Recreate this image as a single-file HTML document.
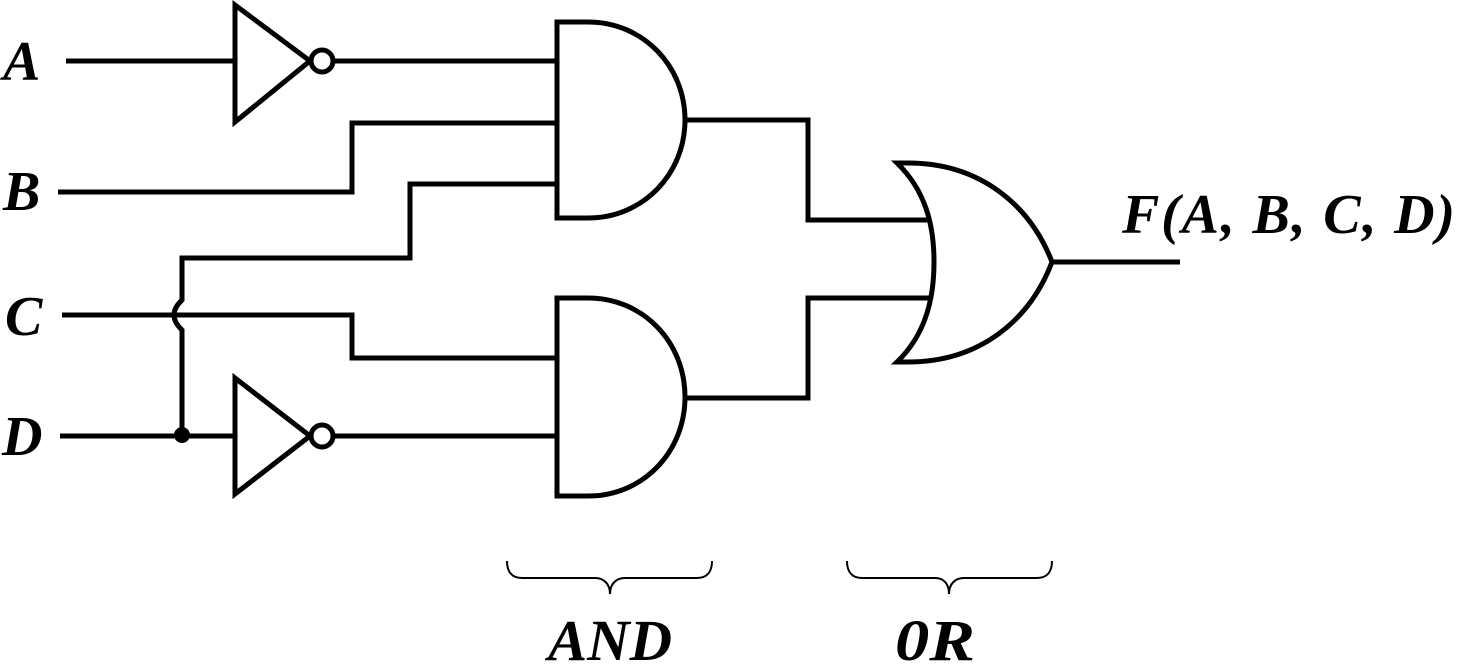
<!DOCTYPE html>
<html><head><meta charset="utf-8"><style>
html,body{margin:0;padding:0;background:#fff;width:1460px;height:666px;overflow:hidden}
svg{display:block}
text{font-family:"Liberation Serif",serif;font-weight:bold;font-style:italic;fill:#000}
</style></head><body>
<svg width="1460" height="666" viewBox="0 0 1460 666">
<g fill="none" stroke="#000" stroke-width="5" stroke-linejoin="miter">
<path d="M66 61H235"/>
<path d="M235 5V122L310 61Z"/>
<circle cx="322" cy="61" r="11"/>
<path d="M333 61H557"/>
<path d="M58 192H352V123H557"/>
<path d="M557 184H410V258H182V300Q166 315 182 330V436"/>
<path d="M62 315H352V358H557"/>
<path d="M60 436H235"/>
<path d="M235 378V494L310 436Z"/>
<circle cx="322" cy="436" r="11"/>
<path d="M333 436H557"/>
<path d="M557 22H588C643 22 685 66 685 120C685 174 643 218 588 218H557Z"/>
<path d="M557 298H588C643 298 685 342 685 397C685 452 643 496 588 496H557Z"/>
<path d="M685 120H808V220H930"/>
<path d="M685 398H808V298H930"/>
<path d="M897 163H908C980 163 1030 205 1052 262C1030 320 980 362 908 362H897C925 335 934 300 934 262C934 224 925 190 897 163Z"/>
<path d="M1052 262H1180"/>
</g>
<circle cx="182" cy="435" r="8" fill="#000"/>
<g fill="none" stroke="#000" stroke-width="2">
<path d="M507 561C507 572 512 578 522 578H595C604 578 610 584 610 594C610 584 616 578 625 578H697C707 578 712 572 712 561"/>
<path d="M847 561C847 572 852 578 862 578H935C944 578 949 584 949 594C949 584 955 578 964 578H1037C1047 578 1052 572 1052 561"/>
</g>
<text x="3" y="80" font-size="56">A</text>
<text x="3" y="210" font-size="56">B</text>
<text x="5" y="335" font-size="56">C</text>
<text x="2" y="455" font-size="56">D</text>
<text x="1122" y="233" font-size="56" textLength="333" lengthAdjust="spacing">F(A, B, C, D)</text>
<text x="548" y="660" font-size="58" textLength="124" lengthAdjust="spacingAndGlyphs">AND</text>
<text x="895" y="660" font-size="58" textLength="80" lengthAdjust="spacingAndGlyphs">0R</text>
</svg>
</body></html>
